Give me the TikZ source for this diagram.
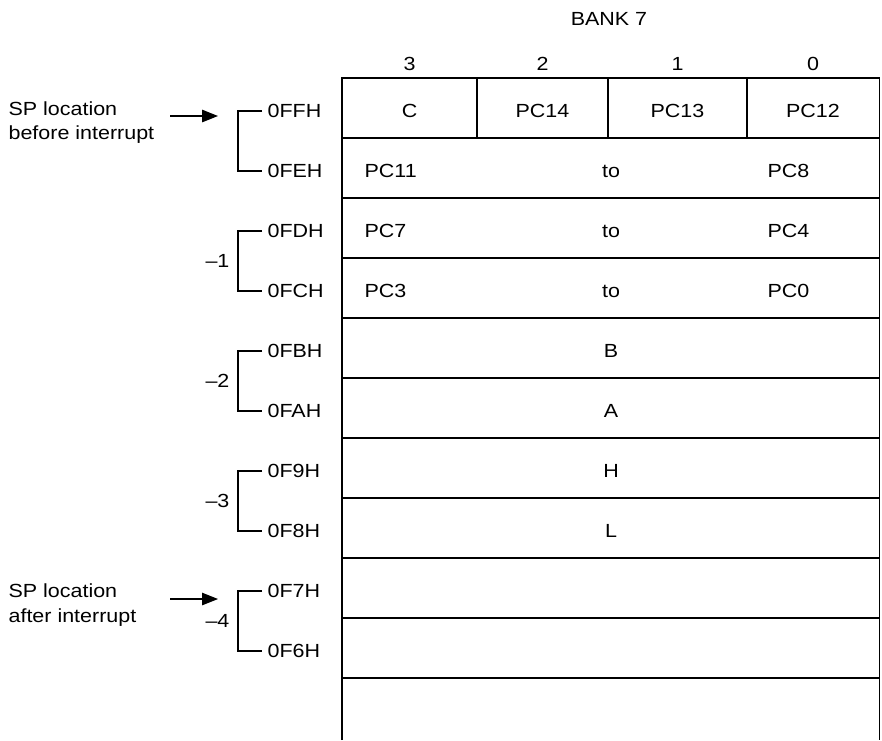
\documentclass[tikz,border=0pt]{standalone}
\usepackage{fontspec}
\setmainfont{Liberation Sans}[FakeStretch=1.13]
\usetikzlibrary{arrows.meta}
\begin{document}
\begin{tikzpicture}[x=1pt,y=-1pt,line width=1.2pt,
  txt/.style={font=\fontsize{19}{22}\selectfont,inner sep=0pt,anchor=base},
  addr/.style={txt,anchor=west},
  minus/.style={txt,anchor=east},
  sparrow/.style={line width=1.2pt,-{Triangle[length=16pt,width=12.5pt]}}]
\useasboundingbox (0,0) rectangle (882,740);
% table frame
\coordinate (tl) at (342,78);
\coordinate (tr) at (879.5,78);
\coordinate (bl) at (342,740);
\coordinate (br) at (879.5,740);
\draw (bl) -- (tl) -- (tr) -- (br);
\foreach \k in {0,...,9}{
  \draw (342,138+60*\k) -- (879.5,138+60*\k);
}
\foreach \x in {477,608,747}{
  \draw (\x,78) -- (\x,138);
}
% headers
\node[txt] (bank) at (609,25) {BANK 7};
\node[txt] (h3) at (409.5,70) {3};
\node[txt] (h2) at (542.5,70) {2};
\node[txt] (h1) at (677.5,70) {1};
\node[txt] (h0) at (813,70) {0};
% row 1
\node[txt] (c) at (409.5,117) {C};
\node[txt] (pc14) at (542.5,117) {PC14};
\node[txt] (pc13) at (677.5,117) {PC13};
\node[txt] (pc12) at (813,117) {PC12};
% rows 2-4
\foreach \k/\a/\b in {1/PC11/PC8,2/PC7/PC4,3/PC3/PC0}{
  \node[txt,anchor=base west] (ra\k) at (364,117+60*\k) {\a};
  \node[txt] (rt\k) at (611,117+60*\k) {to};
  \node[txt,anchor=base west] (rb\k) at (767,117+60*\k) {\b};
}
% rows 5-8
\foreach \k/\a in {4/B,5/A,6/H,7/L}{
  \node[txt] (r\k) at (611,117+60*\k) {\a};
}
% address brackets
\foreach \i/\a/\b in {0/0FFH/0FEH,1/0FDH/0FCH,2/0FBH/0FAH,3/0F9H/0F8H,4/0F7H/0F6H}{
  \node[addr] (ta\i) at (267,111+120*\i) {\a};
  \node[addr] (tb\i) at (267,171+120*\i) {\b};
  \draw ([xshift=-5pt]ta\i.west) -- ++(-24,0) coordinate (v\i) |- ([xshift=-5pt]tb\i.west);
}
\foreach \i in {1,...,4}{
  \node[minus] (m\i) at (230,141+120*\i) {–\i};
}
% SP labels
\node[txt,anchor=base west] (spa1) at (8,115) {SP location};
\node[txt,anchor=base west] (spa2) at (8,139) {before interrupt};
\node[txt,anchor=base west] (spb1) at (8,597) {SP location};
\node[txt,anchor=base west] (spb2) at (8,622) {after interrupt};
\coordinate (as) at (170,116);
\coordinate (ae) at (218,116);
\coordinate (bs) at (170,599);
\coordinate (be) at (218,599);
\draw[sparrow] (as) -- (ae);
\draw[sparrow] (bs) -- (be);
\end{tikzpicture}
\end{document}
